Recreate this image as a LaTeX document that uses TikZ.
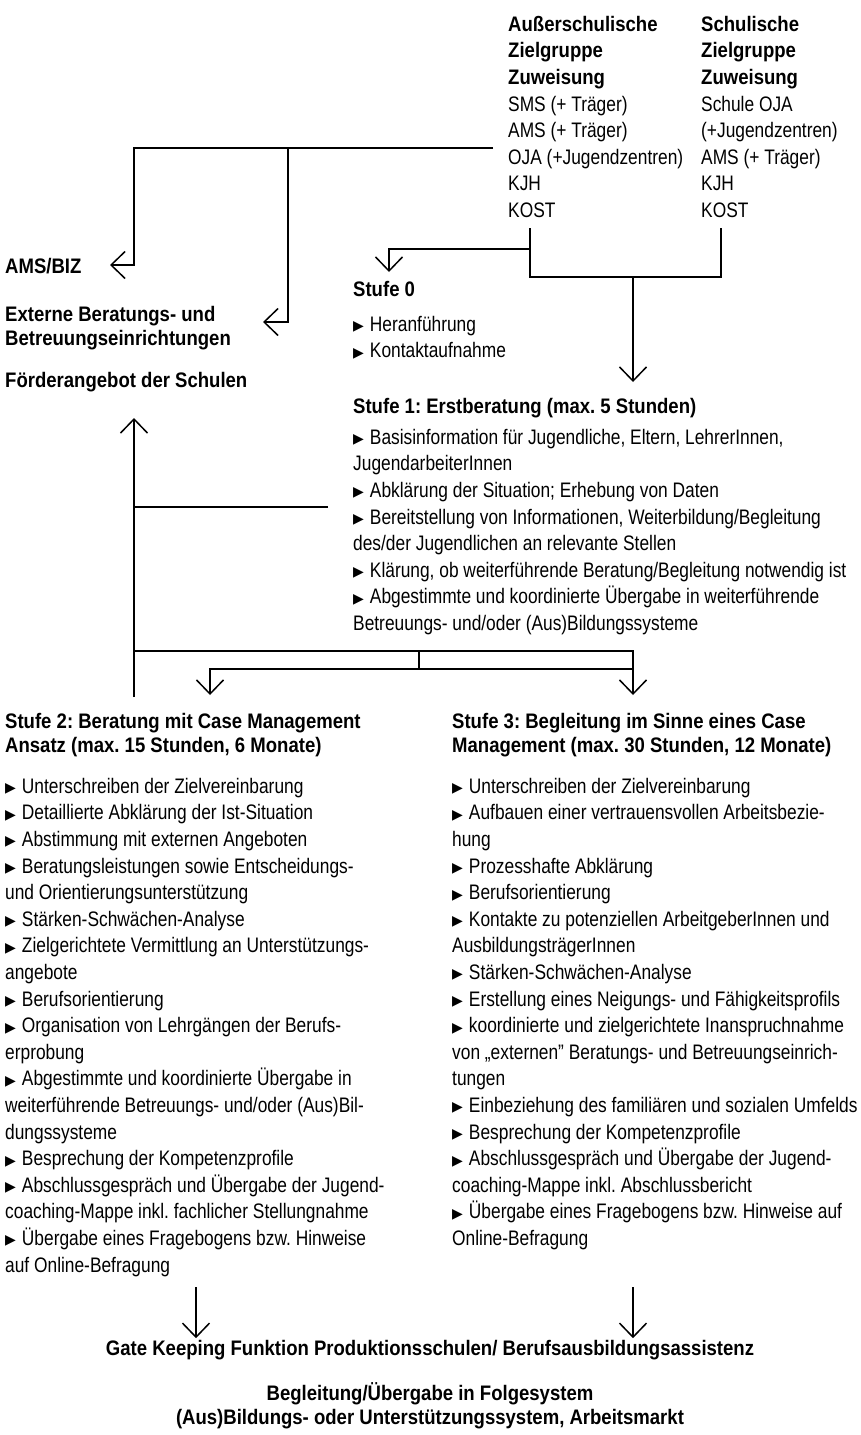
\documentclass[tikz,border=0pt]{standalone}
\usepackage{fontspec}
\setmainfont{Liberation Sans}[FakeStretch=0.826,BoldFeatures={FakeStretch=0.883}]
\newfontfamily\dejavu{DejaVu Sans}
\usetikzlibrary{arrows.meta}
\frenchspacing
\tikzset{
    % Define style for plain text blocks
    tekst/.style={
           inner sep=0pt,
           anchor=north west,
           align=left,
           font=\fontsize{21}{26.6}\selectfont},
    % Define style for bold headings
    kopf/.style={
           inner sep=0pt,
           anchor=north west,
           align=left,
           font=\fontsize{21}{24}\selectfont\bfseries},
    % Define line and arrow style
    linje/.style={line width=1.5pt},
    pil/.style={
           linje,
           -{Straight Barb[length=14pt,width=27pt]}}
}
\newcommand*{\pkt}{{\dejavu\fontsize{14}{14}\selectfont\raisebox{0.5pt}{▶}}\hspace{6pt}}

\begin{document}
\begin{tikzpicture}[x=1pt,y=-1pt]
\useasboundingbox (0,0) rectangle (860,1435);

% Zuweisung: the two target groups at the top
\node[tekst] (ausser) at (508,12.4) {\strut\textbf{Außerschulische}\\ \textbf{Zielgruppe}\\ \textbf{Zuweisung}\\
  SMS (+ Träger)\\ AMS (+ Träger)\\ OJA (+Jugendzentren)\\ KJH\\ KOST};
\node[tekst] (schul) at (701,12.4) {\strut\textbf{Schulische}\\ \textbf{Zielgruppe}\\ \textbf{Zuweisung}\\
  Schule OJA\\ (+Jugendzentren)\\ AMS (+ Träger)\\ KJH\\ KOST};

% Outside offers on the left
\node[kopf] (amsbiz) at (5,256.2) {\strut AMS/BIZ};
\node[kopf] (extern) at (5,304.2) {\strut Externe Beratungs- und\\ Betreuungseinrichtungen};
\node[kopf] (foerder) at (5,370.2) {\strut Förderangebot der Schulen};

% Stufe 0 and Stufe 1
\node[kopf] (stufe0) at (353,279.2) {\strut Stufe 0};
\node[tekst] (stufe0l) at (353,312.4) {\strut\pkt Heranführung\\ \pkt Kontaktaufnahme};
\node[kopf] (stufe1) at (353,396.2) {\strut Stufe 1: Erstberatung (max. 5 Stunden)};
\node[tekst] (stufe1l) at (353,425.4) {\strut\pkt Basisinformation für Jugendliche, Eltern, LehrerInnen,\\
  JugendarbeiterInnen\\
  \pkt Abklärung der Situation; Erhebung von Daten\\
  \pkt Bereitstellung von Informationen, Weiterbildung/Begleitung\\
  des/der Jugendlichen an relevante Stellen\\
  \pkt Klärung, ob weiterführende Beratung/Begleitung notwendig ist\\
  \pkt Abgestimmte und koordinierte Übergabe in weiterführende\\
  Betreuungs- und/oder (Aus)Bildungssysteme};

% Stufe 2
\node[kopf] (stufe2) at (5,711.2) {\strut Stufe 2: Beratung mit Case Management\\ Ansatz (max. 15 Stunden, 6 Monate)};
\node[tekst] (stufe2l) at (5,774.4) {\strut\pkt Unterschreiben der Zielvereinbarung\\
  \pkt Detaillierte Abklärung der Ist-Situation\\
  \pkt Abstimmung mit externen Angeboten\\
  \pkt Beratungsleistungen sowie Entscheidungs-\\
  und Orientierungsunterstützung\\
  \pkt Stärken-Schwächen-Analyse\\
  \pkt Zielgerichtete Vermittlung an Unterstützungs-\\
  angebote\\
  \pkt Berufsorientierung\\
  \pkt Organisation von Lehrgängen der Berufs-\\
  erprobung\\
  \pkt Abgestimmte und koordinierte Übergabe in\\
  weiterführende Betreuungs- und/oder (Aus)Bil-\\
  dungssysteme\\
  \pkt Besprechung der Kompetenzprofile\\
  \pkt Abschlussgespräch und Übergabe der Jugend-\\
  coaching-Mappe inkl. fachlicher Stellungnahme\\
  \pkt Übergabe eines Fragebogens bzw. Hinweise\\
  auf Online-Befragung};

% Stufe 3
\node[kopf] (stufe3) at (452,711.2) {\strut Stufe 3: Begleitung im Sinne eines Case\\ Management (max. 30 Stunden, 12 Monate)};
\node[tekst] (stufe3l) at (452,774.4) {\strut\pkt Unterschreiben der Zielvereinbarung\\
  \pkt Aufbauen einer vertrauensvollen Arbeitsbezie-\\
  hung\\
  \pkt Prozesshafte Abklärung\\
  \pkt Berufsorientierung\\
  \pkt Kontakte zu potenziellen ArbeitgeberInnen und\\
  AusbildungsträgerInnen\\
  \pkt Stärken-Schwächen-Analyse\\
  \pkt Erstellung eines Neigungs- und Fähigkeitsprofils\\
  \pkt koordinierte und zielgerichtete Inanspruchnahme\\
  von „externen” Beratungs- und Betreuungseinrich-\\
  tungen\\
  \pkt Einbeziehung des familiären und sozialen Umfelds\\
  \pkt Besprechung der Kompetenzprofile\\
  \pkt Abschlussgespräch und Übergabe der Jugend-\\
  coaching-Mappe inkl. Abschlussbericht\\
  \pkt Übergabe eines Fragebogens bzw. Hinweise auf\\
  Online-Befragung};

% Ending at the bottom
\node[kopf, anchor=north, align=center] (gate) at (430,1338.2) {\strut Gate Keeping Funktion Produktionsschulen/ Berufsausbildungsassistenz};
\node[kopf, anchor=north, align=center] (folge) at (430,1382.2) {\strut Begleitung/Übergabe in Folgesystem\\ (Aus)Bildungs- oder Unterstützungssystem, Arbeitsmarkt};

% Junction points of the connectors
\coordinate (vt) at (493,148);
\coordinate (vAms) at (134,265);
\coordinate (vExt) at (288,322);
\coordinate (kA) at (530,228);
\coordinate (kB) at (721,228);
\coordinate (k0) at (530,249);
\coordinate (kM) at (633,277);
\coordinate (s1) at (328,507);
\coordinate (rueck) at (134,697);
\coordinate (gA) at (134,651);
\coordinate (gM) at (419,651);
\coordinate (gB) at (633,669);
\coordinate (eA) at (196,1287);
\coordinate (eB) at (633,1287);

% Now connect the nodes
\draw[pil] (vt) -| (vAms) -- ++(-24,0);
\draw[pil] (vt -| vExt) -- (vExt) -- ++(-25,0);
\draw[linje] (kA) -- ++(0,49) -| (kB);
\draw[pil] (k0) -| (389,272);
\draw[pil] (kM) -- (kM |- 0,382);
\draw[pil] (rueck) -- (rueck |- 0,418);
\draw[linje] (s1) -- (s1 -| rueck);
\draw[pil] (gA) -| (633,695);
\draw[linje] (gM) -- ++(0,18);
\draw[pil] (gB) -| (210,695);
\draw[pil] (eA) -- (eA |- gate.north);
\draw[pil] (eB) -- (eB |- gate.north);
\end{tikzpicture}
\end{document}
